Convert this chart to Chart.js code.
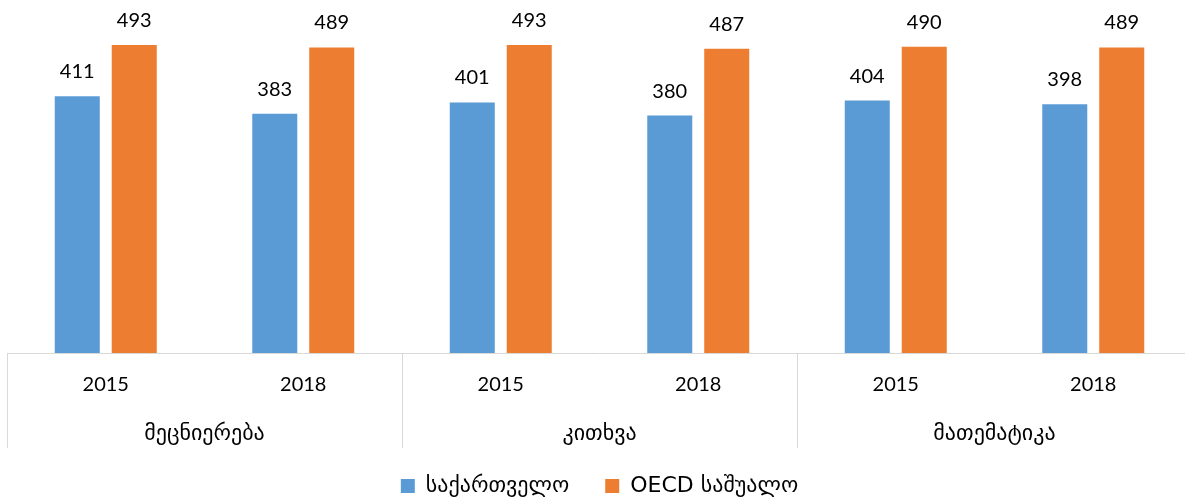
<!DOCTYPE html>
<html>
<head>
<meta charset="utf-8">
<script src="https://cdn.jsdelivr.net/npm/chart.js@4/dist/chart.umd.min.js"></script>
<style>
    html, body { margin: 0; padding: 0; background: #fff; overflow: hidden; }
    #wrap { width: 1192px; height: 507px; }
</style>
</head>
<body>
<div id="wrap"><canvas id="chart" width="1192" height="507"></canvas></div>
<script>
// Data
const subjects = ['მეცნიერება', 'კითხვა', 'მათემატიკა'];
const years = ['2015', '2018'];
const georgiaScores = [411, 383, 401, 380, 404, 398];
const oecdScores = [493, 489, 493, 487, 490, 489];
const seriesNames = ['საქართველო', 'OECD საშუალო'];

const labels = [];
subjects.forEach(() => years.forEach(y => labels.push(y)));

const FONT = "Lato, 'DejaVu Sans', sans-serif";
const GEO_FONT = "'DejaVu Sans', sans-serif";

// Value labels above bars, separators and subject names under the axis
const decorPlugin = {
    id: 'decor',
    afterDatasetsDraw(chart) {
        const ctx = chart.ctx;
        ctx.save();
        ctx.font = '20px ' + FONT;
        ctx.fillStyle = '#000';
        ctx.textAlign = 'center';
        ctx.textBaseline = 'alphabetic';
        chart.data.datasets.forEach((ds, di) => {
            chart.getDatasetMeta(di).data.forEach((bar, i) => {
                ctx.fillText(ds.data[i], bar.x, bar.y - 18);
            });
        });
        ctx.restore();
    },
    afterDraw(chart) {
        const ctx = chart.ctx;
        const area = chart.chartArea;
        const xs = chart.scales.x;
        ctx.save();
        ctx.strokeStyle = '#d9d9d9';
        ctx.lineWidth = 1;
        // baseline
        ctx.beginPath();
        ctx.moveTo(area.left, area.bottom + 0.5);
        ctx.lineTo(area.right, area.bottom + 0.5);
        ctx.stroke();
        // group separators
        const bounds = [area.left];
        for (let s = 1; s < subjects.length; s++) {
            const idx = s * years.length;
            bounds.push((xs.getPixelForValue(idx - 1) + xs.getPixelForValue(idx)) / 2);
        }
        bounds.push(area.right);
        bounds.forEach(bx => {
            const x = Math.round(bx) + 0.5;
            ctx.beginPath();
            ctx.moveTo(x, area.bottom);
            ctx.lineTo(x, 448);
            ctx.stroke();
        });
        ctx.font = '22px ' + GEO_FONT;
        ctx.fillStyle = '#000';
        ctx.textAlign = 'center';
        ctx.textBaseline = 'middle';
        subjects.forEach((name, s) => {
            ctx.fillText(name, (bounds[s] + bounds[s + 1]) / 2, 434);
        });
        ctx.restore();
    }
};

new Chart(document.getElementById('chart'), {
    type: 'bar',
    data: {
        labels: labels,
        datasets: [
            {
                label: seriesNames[0],
                data: georgiaScores,
                backgroundColor: '#5b9bd5',
                categoryPercentage: 0.577,
                barPercentage: 0.79
            },
            {
                label: seriesNames[1],
                data: oecdScores,
                backgroundColor: '#ed7d31',
                categoryPercentage: 0.577,
                barPercentage: 0.79
            }
        ]
    },
    options: {
        responsive: false,
        animation: false,
        layout: { padding: { top: 3, left: 7, right: 0, bottom: 0 } },
        plugins: {
            legend: {
                position: 'bottom',
                labels: {
                    boxWidth: 14,
                    boxHeight: 14,
                    padding: 36,
                    color: '#000',
                    font: { family: GEO_FONT, size: 22 }
                }
            },
            tooltip: { enabled: false }
        },
        scales: {
            x: {
                grid: { display: false, drawTicks: false },
                border: { display: false },
                ticks: {
                    color: '#000',
                    padding: 20,
                    font: { family: FONT, size: 20 }
                },
                afterFit(scale) { scale.height = 86; }
            },
            y: {
                display: false,
                min: 0,
                max: 560
            }
        }
    },
    plugins: [decorPlugin]
});
</script>
</body>
</html>
